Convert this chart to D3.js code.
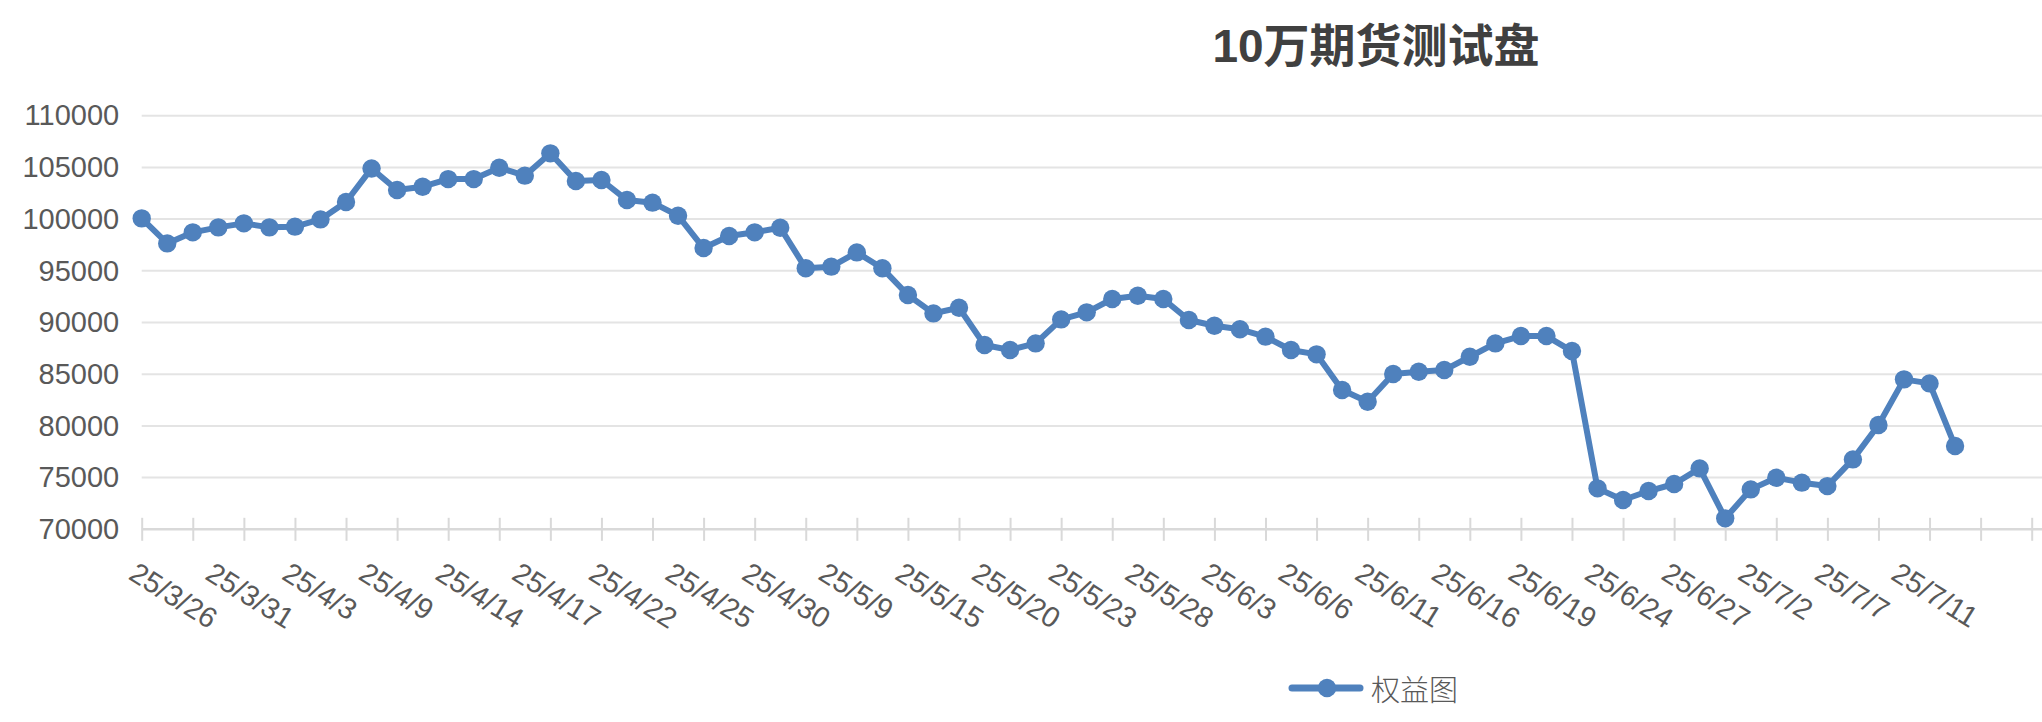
<!DOCTYPE html>
<html>
<head>
<meta charset="utf-8">
<script src="https://cdn.jsdelivr.net/npm/d3@7"></script>
<style>
  body { margin: 0; background: #ffffff; }
  text { font-family: "Liberation Sans", Arial, "Noto Sans CJK SC", sans-serif; }
</style>
</head>
<body>
<div id="chart"></div>
<script>
// Trading dates (every 3rd one is labelled on the axis)
const dates = [
    "25/3/26", "25/3/27", "25/3/28", "25/3/31", "25/4/1", "25/4/2", "25/4/3",
    "25/4/7", "25/4/8", "25/4/9", "25/4/10", "25/4/11", "25/4/14", "25/4/15",
    "25/4/16", "25/4/17", "25/4/18", "25/4/21", "25/4/22", "25/4/23", "25/4/24",
    "25/4/25", "25/4/28", "25/4/29", "25/4/30", "25/5/6", "25/5/7", "25/5/9",
    "25/5/12", "25/5/13", "25/5/15", "25/5/16", "25/5/19", "25/5/20", "25/5/21",
    "25/5/22", "25/5/23", "25/5/26", "25/5/27", "25/5/28", "25/5/29", "25/5/30",
    "25/6/3", "25/6/4", "25/6/5", "25/6/6", "25/6/9", "25/6/10", "25/6/11",
    "25/6/12", "25/6/13", "25/6/16", "25/6/17", "25/6/18", "25/6/19", "25/6/20",
    "25/6/23", "25/6/24", "25/6/25", "25/6/26", "25/6/27", "25/6/30", "25/7/1",
    "25/7/2", "25/7/3", "25/7/4", "25/7/7", "25/7/8", "25/7/9", "25/7/11",
    "25/7/14", "25/7/15"
];

// 权益图 - account equity
const equity = [
    100070, 97650, 98720, 99200, 99590, 99200, 99270, 99970, 101650, 104900,
    102810, 103130, 103870, 103870, 104970, 104200, 106360, 103680, 103780, 101840,
    101590, 100330, 97200, 98360, 98720, 99170, 95240, 95400, 96780, 95240,
    92660, 90880, 91430, 87820, 87340, 87980, 90300, 90980, 92270, 92590,
    92270, 90240, 89690, 89340, 88630, 87340, 86920, 83470, 82340, 85020,
    85240, 85400, 86690, 87980, 88690, 88690, 87240, 73960, 72830, 73700,
    74380, 75890, 71060, 73860, 74990, 74510, 74180, 76760, 80080, 84500,
    84110, 78050
];

// The category axis carries three empty slots after the last date
const categories = dates.concat(["", "", ""]);

const yTicks = [70000, 75000, 80000, 85000, 90000, 95000, 100000, 105000, 110000];

const title = "10万期货测试盘";
const seriesName = "权益图";

const width = 2042;
const height = 722;
const plotLeft = 141.7, plotRight = 2031.7, plotTop = 115.7, plotBottom = 529.3;
const blue = "#4f81bd";

const svg = d3.select("#chart")
    .append("svg")
    .attr("width", width)
    .attr("height", height);

const x = d3.scalePoint()
    .domain(d3.range(categories.length))
    .range([plotLeft, plotRight]);

const y = d3.scaleLinear()
    .domain([70000, 110000])
    .range([plotBottom, plotTop]);

// Gridlines
svg.append("g")
    .selectAll("line")
    .data(yTicks.slice(1))
    .enter()
    .append("line")
    .attr("x1", plotLeft)
    .attr("x2", width)
    .attr("y1", d => y(d))
    .attr("y2", d => y(d))
    .attr("stroke", "#e4e4e4")
    .attr("stroke-width", 2);

// Y axis labels
const yAxis = svg.append("g")
    .attr("transform", `translate(${plotLeft},0)`)
    .call(d3.axisLeft(y)
        .tickValues(yTicks)
        .tickFormat(d3.format("d"))
        .tickSize(0)
        .tickPadding(22.5));
yAxis.select(".domain").remove();
yAxis.selectAll("text")
    .style("font-size", "29px")
    .attr("fill", "#595959");

// X axis line and cross tick marks (every 2 categories)
svg.append("line")
    .attr("x1", plotLeft)
    .attr("x2", width)
    .attr("y1", plotBottom)
    .attr("y2", plotBottom)
    .attr("stroke", "#d9d9d9")
    .attr("stroke-width", 2.5);

const tickAxis = svg.append("g")
    .attr("transform", `translate(0,${plotBottom})`)
    .call(d3.axisBottom(x)
        .tickValues(x.domain().filter(i => i % 2 === 0))
        .tickFormat(""));
tickAxis.select(".domain").remove();
tickAxis.selectAll(".tick line")
    .attr("y1", -11.5)
    .attr("y2", 11.5)
    .attr("stroke", "#d9d9d9")
    .attr("stroke-width", 2);

// X labels (every 3 categories), rotated
const labelAxis = svg.append("g")
    .attr("transform", `translate(0,${plotBottom})`)
    .call(d3.axisBottom(x)
        .tickValues(x.domain().filter(i => i % 3 === 0 && categories[i] !== ""))
        .tickFormat(i => categories[i])
        .tickSize(0));
labelAxis.select(".domain").remove();
labelAxis.selectAll("text")
    .attr("x", 0)
    .attr("y", 0)
    .attr("dy", 0)
    .attr("text-anchor", "start")
    .attr("transform", "translate(-15,49) rotate(32)")
    .style("font-size", "29px")
    .attr("fill", "#595959");

// Line
const line = d3.line()
    .x((d, i) => x(i))
    .y(d => y(d));

svg.append("path")
    .datum(equity)
    .attr("d", line)
    .attr("fill", "none")
    .attr("stroke", blue)
    .attr("stroke-width", 6)
    .attr("stroke-linejoin", "round");

svg.append("g")
    .selectAll("circle")
    .data(equity)
    .enter()
    .append("circle")
    .attr("cx", (d, i) => x(i))
    .attr("cy", d => y(d))
    .attr("r", 9.2)
    .attr("fill", blue);

// Title
svg.append("text")
    .attr("x", 1376)
    .attr("y", 62)
    .attr("text-anchor", "middle")
    .style("font-size", "46px")
    .style("font-weight", "bold")
    .attr("fill", "#404040")
    .text(title);

// Legend
const legend = svg.append("g");
legend.append("line")
    .attr("x1", 1292)
    .attr("x2", 1360)
    .attr("y1", 688)
    .attr("y2", 688)
    .attr("stroke", blue)
    .attr("stroke-width", 7)
    .attr("stroke-linecap", "round");
legend.append("circle")
    .attr("cx", 1327)
    .attr("cy", 688)
    .attr("r", 9.2)
    .attr("fill", blue);
legend.append("text")
    .attr("x", 1371)
    .attr("y", 688)
    .attr("dominant-baseline", "central")
    .style("font-family", "'Noto Sans CJK SC', sans-serif")
    .style("font-weight", 300)
    .style("font-size", "29px")
    .attr("fill", "#595959")
    .text(seriesName);
</script>
</body>
</html>
